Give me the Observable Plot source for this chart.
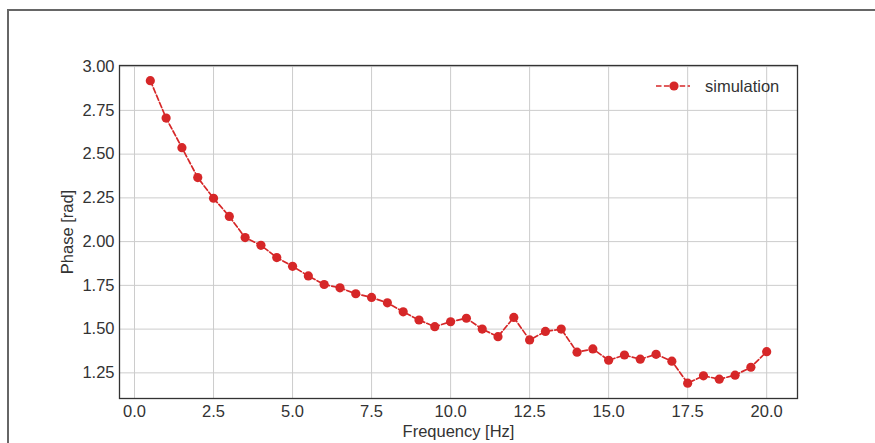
<!DOCTYPE html>
<html>
<head>
<meta charset="utf-8">
<script src="https://cdn.jsdelivr.net/npm/d3@7"></script>
<script src="https://cdn.jsdelivr.net/npm/@observablehq/plot@0.6"></script>
<style>
  html, body { margin: 0; padding: 0; background: #fff; }
  #wrap { position: relative; width: 875px; height: 443px; overflow: hidden; font-family: "Liberation Sans", Arial, sans-serif; }
  #border { position: absolute; left: 7px; top: 9px; width: 900px; height: 460px; border-left: 2px solid #666; border-top: 2px solid #666; box-sizing: border-box; }
  #chart { position: absolute; left: 0; top: 0; }
  #legend { position: absolute; left: 655px; top: 76px; display: flex; align-items: center; font-size: 16.5px; color: #333; }
  #legend svg { margin-right: 14px; }
  #chart svg text { fill: #333; }
</style>
</head>
<body>
<div id="wrap">
  <div id="border"></div>
  <div id="chart"></div>
  <div id="legend">
    <svg width="36" height="20"><line x1="1" y1="10" x2="35" y2="10" stroke="#d62728" stroke-width="1.7" stroke-dasharray="5.5,2.4"></line><circle cx="19" cy="10" r="4.6" fill="#d62728"></circle></svg>
    <span>simulation</span>
  </div>
</div>
<script>
const frequency = [0.5, 1.0, 1.5, 2.0, 2.5, 3.0, 3.5, 4.0, 4.5, 5.0,
                   5.5, 6.0, 6.5, 7.0, 7.5, 8.0, 8.5, 9.0, 9.5, 10.0,
                   10.5, 11.0, 11.5, 12.0, 12.5, 13.0, 13.5, 14.0, 14.5, 15.0,
                   15.5, 16.0, 16.5, 17.0, 17.5, 18.0, 18.5, 19.0, 19.5, 20.0];
const phase = [2.92, 2.706, 2.537, 2.366, 2.248, 2.144, 2.023, 1.979, 1.909, 1.859,
               1.804, 1.755, 1.736, 1.702, 1.681, 1.650, 1.599, 1.552, 1.514, 1.542,
               1.562, 1.500, 1.457, 1.567, 1.438, 1.487, 1.500, 1.368, 1.387, 1.322,
               1.352, 1.328, 1.356, 1.317, 1.191, 1.233, 1.214, 1.237, 1.282, 1.371];
const xTicks = [0, 2.5, 5, 7.5, 10, 12.5, 15, 17.5, 20];
const yTicks = [1.25, 1.5, 1.75, 2.0, 2.25, 2.5, 2.75, 3.0];
const seriesName = "simulation";

const data = frequency.map((f, i) => ({f, p: phase[i], series: seriesName}));
const color = "#d62728";

const chart = Plot.plot({
  width: 875,
  height: 443,
  marginLeft: 119,
  marginRight: 78,
  marginTop: 65,
  marginBottom: 45,
  style: {fontFamily: "'Liberation Sans', Arial, sans-serif", fontSize: "16.5px", color: "#333", background: "transparent"},
  x: {domain: [-0.475, 20.975], label: "Frequency [Hz]", labelArrow: "none"},
  y: {domain: [1.1035, 3.0065], label: "Phase [rad]", labelArrow: "none"},
  marks: [
    Plot.gridX(xTicks, {stroke: "#cccccc", strokeOpacity: 1, strokeWidth: 1}),
    Plot.gridY(yTicks, {stroke: "#cccccc", strokeOpacity: 1, strokeWidth: 1}),
    Plot.axisX(xTicks, {tickSize: 0, tickPadding: 7, tickFormat: d => d.toFixed(1), label: "Frequency [Hz]", labelArrow: "none", labelAnchor: "center", labelOffset: 38, fontSize: 16.5}),
    Plot.axisY(yTicks, {tickSize: 0, tickPadding: 5, tickFormat: d => d.toFixed(2), label: "Phase [rad]", labelArrow: "none", labelAnchor: "center", labelOffset: 58, fontSize: 16.5}),
    Plot.line(data, {x: "f", y: "p", stroke: color, strokeWidth: 1.7, strokeDasharray: "5.5,2.4"}),
    Plot.dot(data, {x: "f", y: "p", fill: color, r: 4.6}),
    Plot.frame({stroke: "#333", strokeWidth: 1.3})
  ]
});
document.getElementById("chart").appendChild(chart);
</script>
</body>
</html>
